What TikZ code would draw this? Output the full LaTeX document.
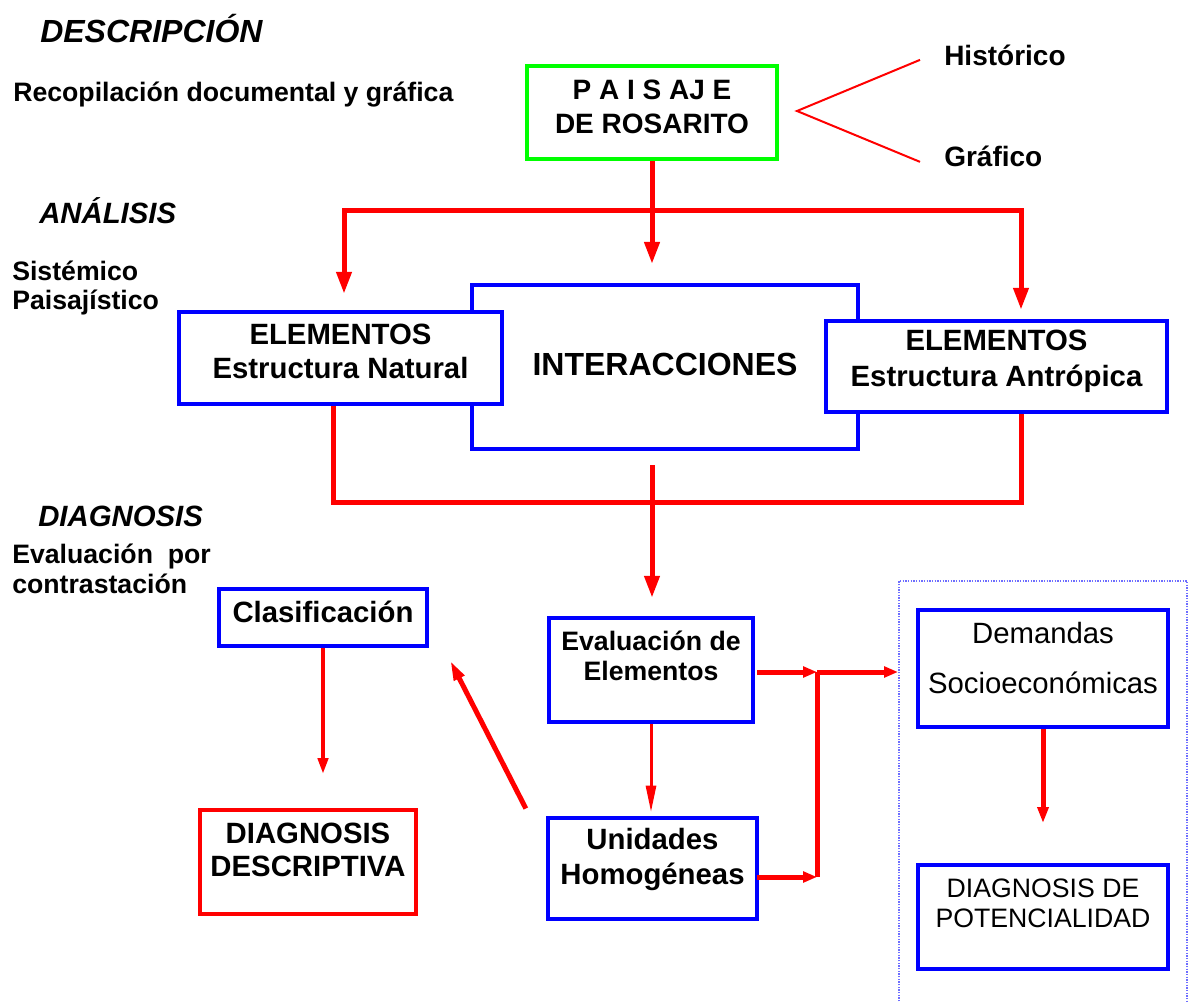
\documentclass[tikz,border=0pt]{standalone}
\usepackage{fontspec}
\setmainfont{Liberation Sans}
\usetikzlibrary{arrows.meta,calc,positioning}

\definecolor{azul}{RGB}{0,0,255}
\definecolor{rojo}{RGB}{255,0,0}
\definecolor{verde}{RGB}{0,255,0}
\definecolor{punteado}{RGB}{110,110,255}

\newcommand\ftitulo{\bfseries\itshape\fontsize{24}{28}\selectfont}
\newcommand\fseccion{\bfseries\itshape\fontsize{22}{26}\selectfont}
\newcommand\flado{\bfseries\fontsize{20}{22}\selectfont}

\tikzset{
  caja/.style={draw=azul, line width=3.25pt, fill=white, inner sep=0pt},
  txt/.style={align=center, inner sep=0pt},
  lado/.style={anchor=base west, inner sep=0pt, font=\flado},
  flujo/.style={draw=rojo, line width=3.75pt},
  punta/.style={-{Triangle[length=16.5pt,width=11pt]}},
  puntachica/.style={-{Triangle[length=10.5pt,width=8pt]}},
}

\begin{document}
\begin{tikzpicture}[x=0.75pt, y=-0.75pt]
\useasboundingbox (0,0) rectangle (1204,1002);

% columna de etapas
\node[lado, font=\ftitulo] (descripcion) at (40,43) {DESCRIPCIÓN};
\node[lado] (recopilacion) at (13,102) {Recopilación documental y gráfica};
\node[lado, font=\fseccion] (analisis) at (39,224) {ANÁLISIS};
\node[lado] (sistemico) at (12,281) {Sistémico};
\node[lado] (paisajistico) at (12,310) {Paisajístico};
\node[lado, font=\fseccion] (diagnosis) at (38,526) {DIAGNOSIS};
\node[lado] (evalpor) at (12,563) {Evaluación~~por};
\node[lado] (contrast) at (12,593) {contrastación};

% descripcion
\node[caja, draw=verde, line width=3pt, minimum width=187.5pt, minimum height=69.75pt,
  label={[txt, yshift=4pt, font=\bfseries\fontsize{21}{25.5}\selectfont]center:P A I S AJ E\\DE ROSARITO}]
  (paisaje) at (652,112.5) {};
\node[lado, font=\bfseries\fontsize{21}{25}\selectfont] (historico) at (944,66) {Histórico};
\node[lado, font=\bfseries\fontsize{21}{25}\selectfont] (grafico) at (944,167) {Gráfico};
\coordinate (vertice) at (797,111);
\draw[rojo, line width=1.5pt] ($(historico.west)+(-24,4)$) -- (vertice) -- ($(grafico.west)+(-24,5)$);

% analisis
\node[caja, minimum width=289.5pt, minimum height=123pt,
  label={[txt, yshift=2pt, font=\bfseries\fontsize{24}{28}\selectfont]center:INTERACCIONES}]
  (inter) at (665,367) {};
\node[caja, minimum width=242.25pt, minimum height=69pt,
  label={[txt, yshift=5pt, font=\bfseries\fontsize{22}{25.5}\selectfont]center:ELEMENTOS\\Estructura Natural}]
  (natural) at (340.5,358) {};
\node[caja, minimum width=255.75pt, minimum height=68.25pt,
  label={[txt, yshift=4pt, font=\bfseries\fontsize{22}{27}\selectfont]center:ELEMENTOS\\Estructura Antrópica}]
  (antropica) at (996.5,366.5) {};

\coordinate (reparto) at (652,211);
\coordinate (union) at (652,502);
\coordinate (salida) at (652,465);

\draw[flujo, punta] (paisaje.south) -- ++(0,103);
\draw[flujo, {Triangle[length=16.5pt,width=11pt]}-{Triangle[length=16.5pt,width=11pt]}]
  ($(natural.north)+(3.5,-16)$) |- (reparto) -| ($(antropica.north)+(24.5,-9)$);
\draw[flujo] ($(natural.south)+(-7.5,0)$) |- (union) -| ($(antropica.south)+(24.5,0)$);

% diagnosis
\node[caja, minimum width=153pt, minimum height=78pt,
  label={[txt, yshift=10.5pt, font=\bfseries\fontsize{20}{22.5}\selectfont]center:Evaluación de\\Elementos}]
  (evalelem) at (651,670) {};
\node[caja, minimum width=156.75pt, minimum height=75.75pt,
  label={[txt, yshift=6.75pt, font=\bfseries\fontsize{22}{26}\selectfont]center:Unidades\\Homogéneas}]
  (unidades) at (652.5,868.5) {};
\node[caja, minimum width=156pt, minimum height=42.75pt,
  label={[txt, yshift=4pt, font=\bfseries\fontsize{22}{26}\selectfont]center:Clasificación}]
  (clasif) at (323,617.5) {};
\node[caja, draw=rojo, minimum width=162pt, minimum height=78pt,
  label={[txt, yshift=9pt, font=\bfseries\fontsize{22}{25}\selectfont]center:DIAGNOSIS\\DESCRIPTIVA}]
  (descriptiva) at (308,862) {};
\node[caja, minimum width=187.5pt, minimum height=87.75pt,
  label={[txt, yshift=8pt, font=\fontsize{22}{37.5}\selectfont]center:Demandas\\Socioeconómicas}]
  (demandas) at (1043,668.5) {};
\node[caja, minimum width=187.5pt, minimum height=78pt,
  label={[txt, yshift=10.5pt, font=\fontsize{20}{22.5}\selectfont]center:DIAGNOSIS DE\\POTENCIALIDAD}]
  (potencial) at (1043,917) {};

\draw[punteado, line width=0.9pt, dash pattern=on 1pt off 1pt] (899,1004) |- (1187,581) -- (1187,1004);

\coordinate (cruce) at (817,672);
\coordinate (pie) at (817,877);
\coordinate (marco) at (898,672);

\draw[flujo, punta] (salida) -- ($(evalelem.north)+(1,-18)$);
\draw[draw=rojo, line width=2.25pt, -{Triangle[length=20pt,width=7.5pt]}] (evalelem.south) -- ++(0,88);
\draw[flujo, puntachica] ($(evalelem.east)+(2,2)$) -- (cruce);
\draw[flujo, puntachica] ($(unidades.east)+(-2,8.5)$) -- (pie);
\draw[flujo] (cruce) -- (pie);
\draw[flujo, puntachica] (cruce) -- (marco);
\draw[flujo, line width=3pt, -{Triangle[length=12pt,width=7.5pt]}] (clasif.south) -- ++(0,126);
\draw[flujo, -{Triangle[length=15pt,width=8pt]}] ($(unidades.west)+(-20,-60)$) -- ($(clasif.east)+(21,43)$);
\draw[flujo, -{Triangle[length=12pt,width=8pt]}] (demandas.south) -- ++(0,94);

\end{tikzpicture}
\end{document}
